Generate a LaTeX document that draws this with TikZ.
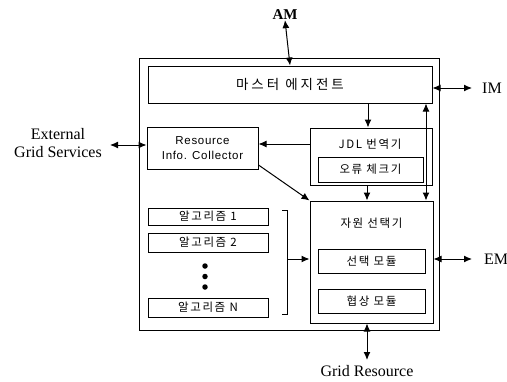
\documentclass[tikz,border=0pt]{standalone}
\usepackage{fontspec}
\setmainfont{Liberation Serif}
\newfontfamily\krm[LetterSpace=22]{Noto Sans CJK KR}
\newfontfamily\kr[LetterSpace=14]{Noto Sans CJK KR}
\newfontfamily\sfn[LetterSpace=6]{Liberation Sans}
\usetikzlibrary{arrows.meta}
\begin{document}
\begin{tikzpicture}[x=1pt,y=-1pt,
  box/.style={draw, line width=1pt, inner sep=0pt},
  lbl/.style={inner sep=0pt, font=\fontsize{16}{18}\selectfont},
  krt/.style={inner sep=0pt, font=\kr\fontsize{11.5}{13}\selectfont},
  arr/.style={line width=1pt, -{Latex[length=8pt,width=7pt]}},
  darr/.style={line width=1pt, {Latex[length=8pt,width=7pt]}-{Latex[length=8pt,width=7pt]}},
  dot/.style={circle, fill, inner sep=0pt, minimum size=5.5pt}]
\useasboundingbox (0,0) rectangle (507,381);
% boxes
\node[box, minimum width=300pt, minimum height=272pt] (outer) at (289,194) {};
\node[box, minimum width=284pt, minimum height=37pt, font=\krm\fontsize{13.5}{15}\selectfont] (master) at (290,84.5) {마스터 에지전트};
\node[box, minimum width=111pt, minimum height=42pt, align=center, font=\sfn\fontsize{11.5}{15}\selectfont] (ric) at (202.5,148) {Resource\\Info. Collector};
\node[box, minimum width=122pt, minimum height=57pt] (jdl) at (371,156.5) {};
\node[krt] (jdlt) at (370,144) {JDL 번역기};
\node[box, minimum width=105pt, minimum height=25pt, krt] (err) at (370.5,169.5) {오류 체크기};
\node[box, minimum width=120pt, minimum height=17pt, krt] (alg1) at (208,216.5) {알고리즘 1};
\node[box, minimum width=120pt, minimum height=19pt, krt] (alg2) at (208,242.5) {알고리즘 2};
\node[box, minimum width=120pt, minimum height=19pt, krt] (algN) at (208,307.5) {알고리즘 N};
\node[dot] (d1) at (205,266) {};
\node[dot] (d2) at (205,276.5) {};
\node[dot] (d3) at (205,287) {};
\node[box, minimum width=123pt, minimum height=122pt] (sel) at (371.5,262) {};
\node[krt] (selt) at (371.5,223) {자원 선택기};
\node[box, minimum width=107pt, minimum height=24pt, krt] (selmod) at (371.5,261) {선택 모듈};
\node[box, minimum width=107pt, minimum height=24pt, krt] (negmod) at (371.5,301) {협상 모듈};
% bracket
\coordinate (bt) at (282,210);
\coordinate (bb) at (282,314);
\coordinate (bm) at (287,259);
\draw[line width=1pt] (bt) -- ++(5,0) -- ++(0,104) -- (bb);
% labels
\node[lbl, font=\bfseries\fontsize{15}{17}\selectfont] (am) at (285,15) {AM};
\node[lbl] (im) at (492,88) {IM};
\node[lbl] (em) at (496,259) {EM};
\node[lbl, align=center] (egs) at (58,143) {External\\Grid Services};
\node[lbl] (gr) at (367,371) {Grid Resource};
% connectors
\draw[darr] (am.south) -- (master.north);
\draw[arr] (master.south -| 368,0) -- (jdl.north -| 368,0);
\draw[darr] (master.south -| 426,0) -- (sel.north -| 426,0);
\draw[darr] (master.east |- 0,88) -- (472,88) coordinate (imr);
\draw[arr] (jdl.west |- jdlt) -- (ric.east |- jdlt);
\draw[arr] (ric.east |- 0,165) -- (sel.north west);
\draw[arr] (jdl.south -| 367,0) -- (sel.north -| 367,0);
\draw[darr] (110,145) coordinate (egsr) -- (ric.west |- 0,145);
\draw[arr] (bm) -- (sel.west |- bm);
\draw[darr] (sel.east |- bm) -- (472,259) coordinate (emr);
\draw[darr] (sel.south -| 367,0) -- (367,360) coordinate (grt);
\end{tikzpicture}
\end{document}
